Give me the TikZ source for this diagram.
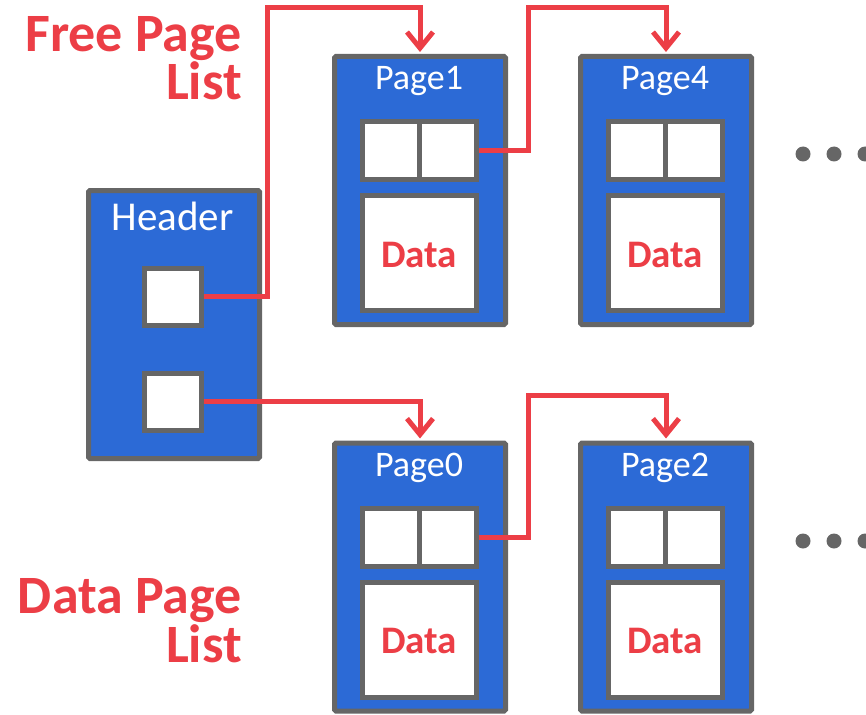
\documentclass[tikz,border=0pt]{standalone}
\usepackage{fontspec}
\setmainfont{Carlito}
\usetikzlibrary{arrows.meta}
\definecolor{boxblue}{RGB}{44,106,214}
\definecolor{bordergray}{RGB}{102,102,102}
\definecolor{listred}{RGB}{236,62,70}
\tikzset{
  pagebox/.style={draw=bordergray, fill=boxblue, line width=5pt, minimum width=171pt, minimum height=268pt, inner sep=0pt, rounded corners=1.5pt},
  headbox/.style={draw=bordergray, fill=boxblue, line width=5pt, minimum width=171pt, minimum height=268pt, inner sep=0pt, rounded corners=1.5pt},
  cellbox/.style={draw=bordergray, fill=white, line width=5pt, minimum width=57pt, minimum height=58pt, inner sep=0pt},
  databox/.style={draw=bordergray, fill=white, line width=5pt, minimum width=114pt, minimum height=115pt, inner sep=0pt},
  pagetitle/.style={text=white, font=\fontsize{36}{40}\selectfont, anchor=base, inner sep=0pt},
  datatext/.style={text=listred, font=\bfseries\fontsize{39}{44}\selectfont, anchor=base, inner sep=0pt},
  listlabel/.style={text=listred, font=\bfseries\fontsize{54}{45}\selectfont, align=right, anchor=base east, inner sep=0pt},
  link/.style={draw=listred, line width=5pt, -{Straight Barb[length=16pt, width=26pt, line width=5pt]}, shorten >=2pt},
  dot/.style={circle, fill=bordergray, minimum size=15pt, inner sep=0pt},
}
\begin{document}
\begin{tikzpicture}[x=1pt, y=-1pt]
\useasboundingbox (0,0) rectangle (866,714);

% Header
\node[headbox] (hdr) at (174,324.5) {};
\node[pagetitle, text=white, font=\fontsize{41}{44}\selectfont] (hdrlbl) at (172.5,230) {Header};
\node[cellbox, minimum height=57pt] (h1) at (173,296.5) {};
\node[cellbox, minimum height=57pt] (h2) at (173,401.5) {};

% Pages
\foreach \nm/\lbl/\cx/\cy in {p1/Page1/420/190.5, p4/Page4/666/190.5, p0/Page0/420/577, p2/Page2/666/577}{
  \node[pagebox] (\nm) at (\cx,\cy) {};
  \node[pagetitle] (\nm t) at (\cx-1,\cy-100.5) {\lbl};
  \node[cellbox] (\nm a) at (\cx-29,\cy-40) {};
  \node[cellbox] (\nm b) at (\cx+28,\cy-40) {};
  \node[databox] (\nm d) at (\cx-0.5,\cy+62.5) {};
  \node[datatext] (\nm dt) at (\cx-1,\cy+76.5) {Data};
}

% Labels (anchor base east = baseline of last line)
\node[listlabel] (fpl) at (242,100) {Free Page\\List};
\node[listlabel] (dpl) at (242,662) {Data Page\\List};

% Corner coordinates
\coordinate (c1) at (267.5,8);
\coordinate (c2) at (528,8);
\coordinate (c3) at (528,395);

% Links
\draw[link] (h1.east) -| (c1) -| (p1.north);
\draw[link] (p1b.east) -| (c2) -| (p4.north);
\draw[link] (h2.east) -| (p0.north);
\draw[link] (p0b.east) -| (c3) -| (p2.north);

% Dots
\foreach \i/\x in {1/803,2/834,3/865}{
  \node[dot] (dt\i) at (\x,154) {};
  \node[dot] (db\i) at (\x,541) {};
}
\end{tikzpicture}
\end{document}
